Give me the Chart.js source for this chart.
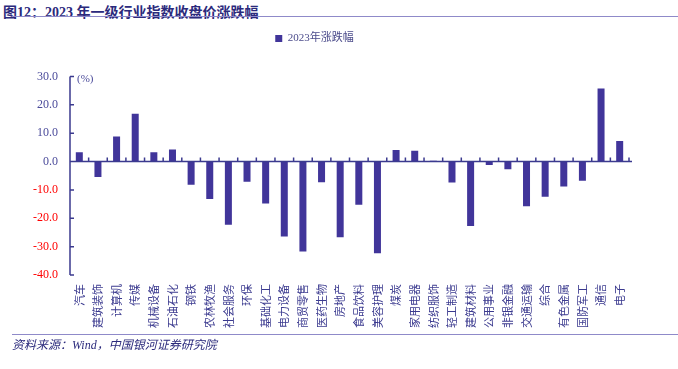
<!DOCTYPE html>
<html>
<head>
<meta charset="utf-8">
<script src="https://cdn.jsdelivr.net/npm/chart.js@4"></script>
<style>
  html, body { margin: 0; padding: 0; background: #fff; }
  #wrap { position: relative; width: 678px; height: 369px; overflow: hidden; }
  #title { position: absolute; left: 3px; top: 1px; font: bold 14px "Liberation Serif", "Noto Sans CJK SC", serif; color: #2b2a7c; white-space: nowrap; }
  #titleLine { position: absolute; left: 12px; right: 0; top: 16px; border-top: 1px solid #8f8ac9; }
  #footLine { position: absolute; left: 12px; right: 0; top: 334px; border-top: 1px solid #8f8ac9; }
  #foot { position: absolute; left: 12px; top: 335px; font: italic 12px "Liberation Serif", "Noto Sans CJK SC", serif; color: #2b2a7c; white-space: nowrap; }
  #unit { position: absolute; left: 77px; top: 72px; font: 11px "Liberation Serif", serif; color: #4a4a9a; }
  canvas { position: absolute; left: 0; top: 0; }
</style>
</head>
<body>
<div id="wrap">
  <div id="title">图12：2023 年一级行业指数收盘价涨跌幅</div>
  <div id="titleLine"></div>
  <canvas id="c" width="678" height="369"></canvas>
  <div id="unit">(%)</div>
  <div id="footLine"></div>
  <div id="foot">资料来源：Wind，中国银河证券研究院</div>
</div>
<script>
const industries = ['汽车', '建筑装饰', '计算机', '传媒', '机械设备', '石油石化', '钢铁', '农林牧渔', '社会服务', '环保',
  '基础化工', '电力设备', '商贸零售', '医药生物', '房地产', '食品饮料', '美容护理', '煤炭', '家用电器', '纺织服饰',
  '轻工制造', '建筑材料', '公用事业', '非银金融', '交通运输', '综合', '有色金属', '国防军工', '通信', '电子'];
const change2023 = [3.3, -5.5, 8.8, 16.8, 3.3, 4.2, -8.2, -13.2, -22.3, -7.1,
  -14.8, -26.4, -31.7, -7.3, -26.7, -15.2, -32.3, 4.1, 3.8, 0.3,
  -7.4, -22.7, -1.2, -2.7, -15.8, -12.4, -8.8, -6.8, 25.7, 7.2];
const yTicks = [30, 20, 10, 0, -10, -20, -30, -40];

const navy = '#3b3a8f';
const barColor = '#41359a';

// axis lines with inward ticks, zero line with small upward ticks
const axisLines = {
  id: 'axisLines',
  afterDatasetsDraw(chart) {
    const ctx = chart.ctx, area = chart.chartArea;
    const x = chart.scales.x, y = chart.scales.y;
    ctx.save();
    ctx.strokeStyle = navy;
    ctx.lineWidth = 1.5;
    ctx.beginPath();
    ctx.moveTo(area.left, area.top);
    ctx.lineTo(area.left, area.bottom);
    yTicks.forEach(function(v) {
      const py = y.getPixelForValue(v);
      ctx.moveTo(area.left, py);
      ctx.lineTo(area.left + 4, py);
    });
    const y0 = y.getPixelForValue(0);
    ctx.moveTo(area.left, y0);
    ctx.lineTo(area.right + 3, y0);
    const slot = x.getPixelForValue(1) - x.getPixelForValue(0);
    for (let i = 0; i <= industries.length; i++) {
      const px = x.getPixelForValue(0) - slot / 2 + i * slot;
      ctx.moveTo(px, y0);
      ctx.lineTo(px, y0 - 4);
    }
    ctx.stroke();
    ctx.restore();
  }
};

new Chart(document.getElementById('c'), {
  type: 'bar',
  data: {
    labels: industries,
    datasets: [{
      label: '2023年涨跌幅',
      data: change2023,
      backgroundColor: barColor,
      borderWidth: 0,
      categoryPercentage: 0.8,
      barPercentage: 0.47
    }]
  },
  options: {
    responsive: false,
    animation: false,
    layout: { padding: { left: 0, right: 49, top: 3, bottom: 0 } },
    plugins: {
      legend: {
        position: 'top',
        labels: {
          boxWidth: 7,
          boxHeight: 7,
          padding: 30,
          color: '#4a4a8a',
          font: { family: '"Liberation Serif", "Noto Sans CJK SC"', size: 11 }
        }
      },
      // empty title used as a spacer between legend and plot
      title: {
        display: true,
        text: '',
        weight: 500,
        padding: { top: 0, bottom: 8 }
      },
      tooltip: { enabled: false }
    },
    scales: {
      x: {
        grid: { display: false, drawTicks: false },
        border: { display: false },
        afterFit: function(s) { s.height = 94; },
        ticks: {
          autoSkip: false,
          minRotation: 90,
          maxRotation: 90,
          padding: 9,
          color: navy,
          font: { family: '"Noto Sans CJK SC"', size: 11 }
        }
      },
      y: {
        min: -40,
        max: 30,
        grid: { display: false, drawTicks: false },
        border: { display: false },
        afterFit: function(s) { s.width = 70; },
        ticks: {
          stepSize: 10,
          padding: 12,
          callback: function(v) { return v.toFixed(1); },
          color: function(c) { return c.tick && c.tick.value < 0 ? '#ff0000' : '#4a4a9a'; },
          font: { family: '"Liberation Serif"', size: 12 }
        }
      }
    }
  },
  plugins: [axisLines]
});
</script>
</body>
</html>
